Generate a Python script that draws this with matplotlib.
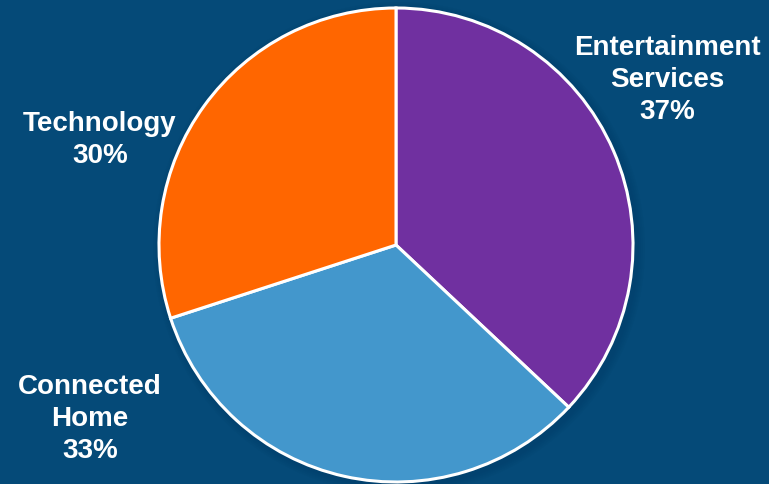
import matplotlib

matplotlib.use("Agg")
import matplotlib.pyplot as plt
from matplotlib.patches import Circle

labels = ["Entertainment\nServices", "Connected\nHome", "Technology"]
shares = [37, 33, 30]
colors = ["#7030a0", "#4397cc", "#ff6600"]
# label centres in pixel coords measured from the top-left
label_pos = [(667, 80), (90, 419), (100, 140)]

BG = "#054a78"
W, H = 769, 485
CENTER = (396, H - 246)
RADIUS = 237

fig = plt.figure(figsize=(7.69, 4.85), dpi=100, facecolor=BG)
ax = fig.add_axes([0, 0, 1, 1])
ax.set_facecolor(BG)

# faint shadow around the pie
for i in range(4):
    ax.add_patch(Circle((CENTER[0] + 3, CENTER[1] - 3), RADIUS + 3 + 2 * i,
                        color="#02304f", alpha=0.05, lw=0, zorder=0))

ax.pie(
    shares,
    colors=colors,
    startangle=90,
    counterclock=False,
    center=CENTER,
    radius=RADIUS,
    wedgeprops=dict(edgecolor="white", linewidth=2.2),
    frame=True,
)
ax.set_xlim(0, W)
ax.set_ylim(0, H)
ax.set_aspect("auto")
ax.axis("off")

for text, share, (x, y) in zip(labels, shares, label_pos):
    ax.text(x, H - y, f"{text}\n{share}%", ha="center", va="center", color="white",
            fontsize=20, fontweight="bold", family="Liberation Sans",
            linespacing=1.29)

fig.savefig("out.png", dpi=100, facecolor=BG)
